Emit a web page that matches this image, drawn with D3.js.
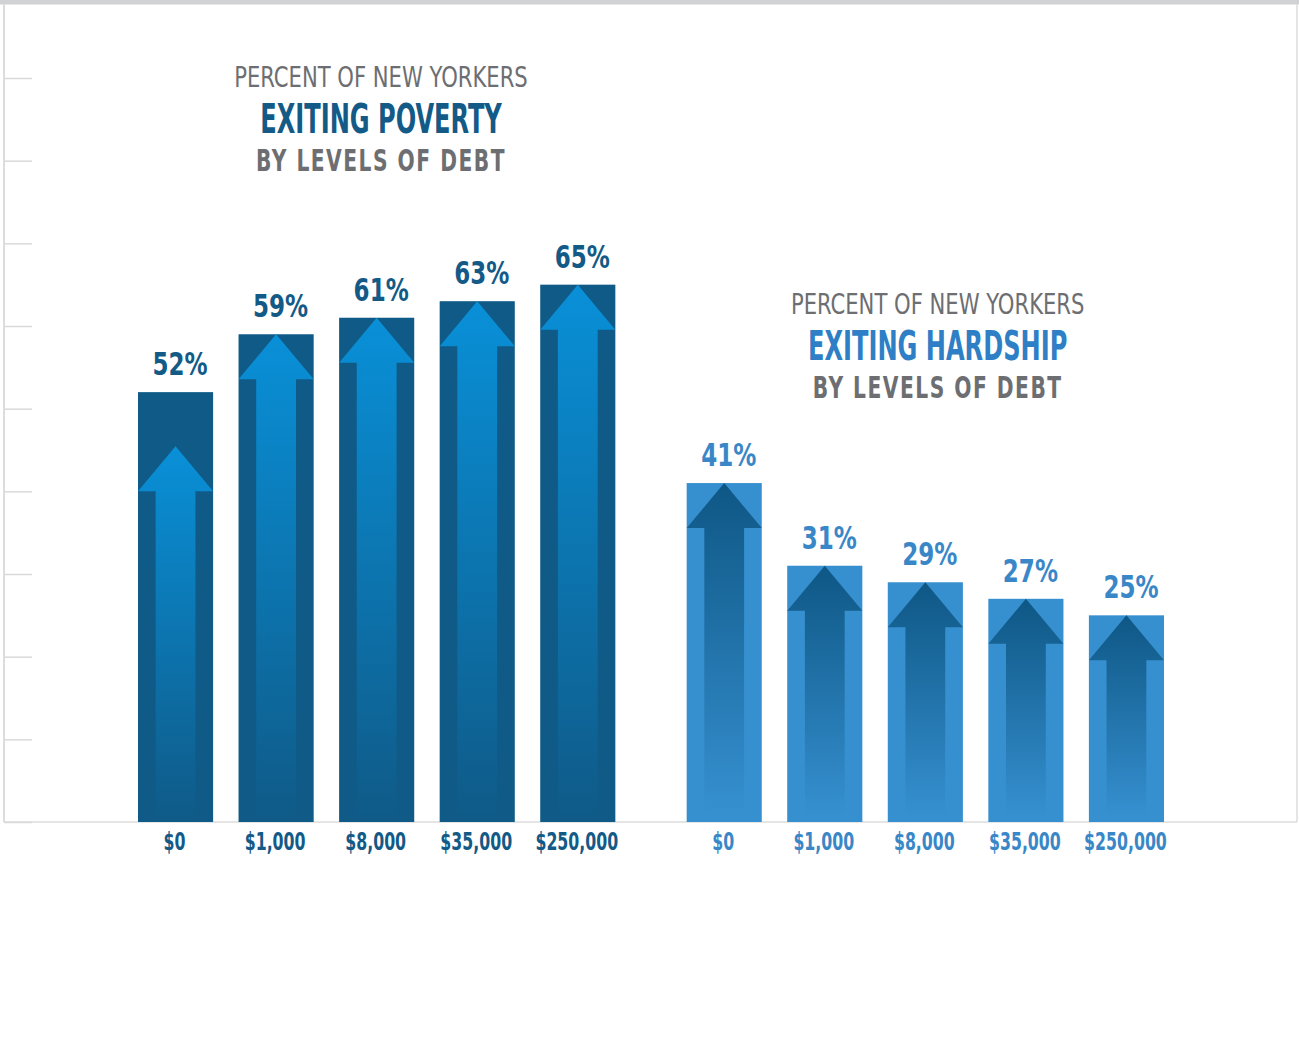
<!DOCTYPE html>
<html>
<head>
<meta charset="utf-8">
<script src="https://cdn.jsdelivr.net/npm/d3@7"></script>
<style>
  html, body { margin: 0; padding: 0; background: #fff; }
  svg { display: block; }
  text { font-family: "Liberation Sans Narrow", "DejaVu Sans Condensed", "Arial Narrow", sans-serif; }
</style>
</head>
<body>
<svg id="chart"></svg>
<script>
// debt levels shared by both panels
const debtLevels = ["$0", "$1,000", "$8,000", "$35,000", "$250,000"];
const povertyValues = [52, 59, 61, 63, 65];
const hardshipValues = [41, 31, 29, 27, 25];
const groups = ["poverty", "hardship"];
const titleTop = "PERCENT OF NEW YORKERS";
const titleMain = ["EXITING POVERTY", "EXITING HARDSHIP"];
const titleBottom = "BY LEVELS OF DEBT";
const yTicks = [0, 10, 20, 30, 40, 50, 60, 70, 80, 90];

const width = 1299, height = 1053;
const frame = {left: 4, right: 1297, top: 4, bottom: 822};

const svg = d3.select("#chart")
  .attr("width", width)
  .attr("height", height);

// top grey band
svg.append("rect")
  .attr("x", 0).attr("y", 0)
  .attr("width", width).attr("height", 4.5)
  .attr("fill", "#d1d2d4");

const y = d3.scaleLinear()
  .domain([0, 90])
  .range([frame.bottom, 78]);

const x0 = d3.scaleBand()
  .domain(groups)
  .range([138, 1164])
  .paddingInner(0.13);

const x1 = d3.scaleBand()
  .domain(debtLevels)
  .range([0, x0.bandwidth()])
  .paddingInner(0.253);

// frame + ticks
svg.append("line")
  .attr("x1", frame.left).attr("x2", frame.right)
  .attr("y1", frame.bottom).attr("y2", frame.bottom)
  .attr("stroke", "#dcdcdc").attr("stroke-width", 1.5);
svg.append("line")
  .attr("x1", frame.right).attr("x2", frame.right)
  .attr("y1", frame.top).attr("y2", frame.bottom)
  .attr("stroke", "#dcdcdc").attr("stroke-width", 1.5);

const yAxis = svg.append("g")
  .attr("transform", `translate(${frame.left},0)`)
  .call(d3.axisRight(y).tickValues(yTicks).tickSize(28).tickFormat(""));
yAxis.select(".domain").remove();
yAxis.selectAll(".tick line").attr("stroke", "#d9d9d9").attr("stroke-width", 1.5);
svg.append("line")
  .attr("x1", frame.left).attr("x2", frame.left)
  .attr("y1", frame.top).attr("y2", frame.bottom)
  .attr("stroke", "#dcdcdc").attr("stroke-width", 2);

const styles = {
  poverty:  {bar: "#0f5a87", arrowTop: "#0990d8", arrowBottom: "#0f5a87", label: "#135a87", title: "#135a87"},
  hardship: {bar: "#3690d0", arrowTop: "#0e5785", arrowBottom: "#3690d0", label: "#3a87c8", title: "#2f7fc6"}
};

const defs = svg.append("defs");
groups.forEach(g => {
  const grad = defs.append("linearGradient")
    .attr("id", "grad-" + g)
    .attr("x1", 0).attr("y1", 0).attr("x2", 0).attr("y2", 1);
  grad.append("stop").attr("offset", "0%").attr("stop-color", styles[g].arrowTop);
  grad.append("stop").attr("offset", g === "poverty" ? "100%" : "98%").attr("stop-color", styles[g].arrowBottom);
});

const data = {
  poverty: povertyValues.map((v, i) => ({group: "poverty", debt: debtLevels[i], value: v, i})),
  hardship: hardshipValues.map((v, i) => ({group: "hardship", debt: debtLevels[i], value: v, i}))
};

const headH = 45;
const bw = x1.bandwidth();
const shaftW = bw * 0.53;

function arrowPath(d) {
  // the first poverty arrow sits lower inside its bar
  const drop = (d.group === "poverty" && d.i === 0) ? 54 : 0;
  const top = y(d.value) + drop;
  const base = frame.bottom;
  const l = 0, r = bw, c = bw / 2;
  const sl = c - shaftW / 2, sr = c + shaftW / 2;
  return `M${c},${top} L${r},${top + headH} L${sr},${top + headH} L${sr},${base} L${sl},${base} L${sl},${top + headH} L${l},${top + headH} Z`;
}

// fallback font is wide, squeeze it horizontally to look condensed
function squeezed(sel, x, yy, sx) {
  return sel.append("text")
    .attr("transform", `translate(${x},${yy}) scale(${sx},1)`)
    .attr("text-anchor", "middle");
}

groups.forEach((g, gi) => {
  const gEl = svg.append("g").attr("transform", `translate(${x0(g)},0)`);

  // titles
  const t = gEl.append("g").attr("transform", `translate(${gi === 0 ? 243 : 251},${gi === 0 ? 0 : 227})`);
  squeezed(t, 0, 87, 0.81)
    .attr("font-size", 29)
    .attr("fill", "#6d6e71")
    .text(titleTop);
  squeezed(t, 0, 133, 0.67)
    .attr("font-size", 40)
    .attr("font-weight", "bold")
    .attr("fill", styles[g].title)
    .text(titleMain[gi]);
  squeezed(t, 0, 171, 0.75)
    .attr("font-size", 30)
    .attr("font-weight", "bold")
    .attr("letter-spacing", 2)
    .attr("fill", "#6d6e71")
    .text(titleBottom);

  const bars = gEl.selectAll("g.bar")
    .data(data[g])
    .join("g")
    .attr("class", "bar")
    .attr("transform", d => `translate(${x1(d.debt)},0)`);

  bars.append("rect")
    .attr("x", 0)
    .attr("y", d => y(d.value))
    .attr("width", bw)
    .attr("height", d => frame.bottom - y(d.value))
    .attr("fill", styles[g].bar);

  bars.append("path")
    .attr("d", arrowPath)
    .attr("fill", `url(#grad-${g})`);

  bars.each(function(d) {
    const b = d3.select(this);
    squeezed(b, bw / 2 + 4.5, y(d.value) - 17, 0.8)
      .attr("font-size", 32)
      .attr("font-weight", "bold")
      .attr("fill", styles[g].label)
      .text(d.value + "%");
    squeezed(b, bw / 2 - 1, 850, 0.73)
      .attr("font-size", 24)
      .attr("font-weight", "bold")
      .attr("fill", styles[g].label)
      .text(d.debt);
  });
});
</script>
</body>
</html>
